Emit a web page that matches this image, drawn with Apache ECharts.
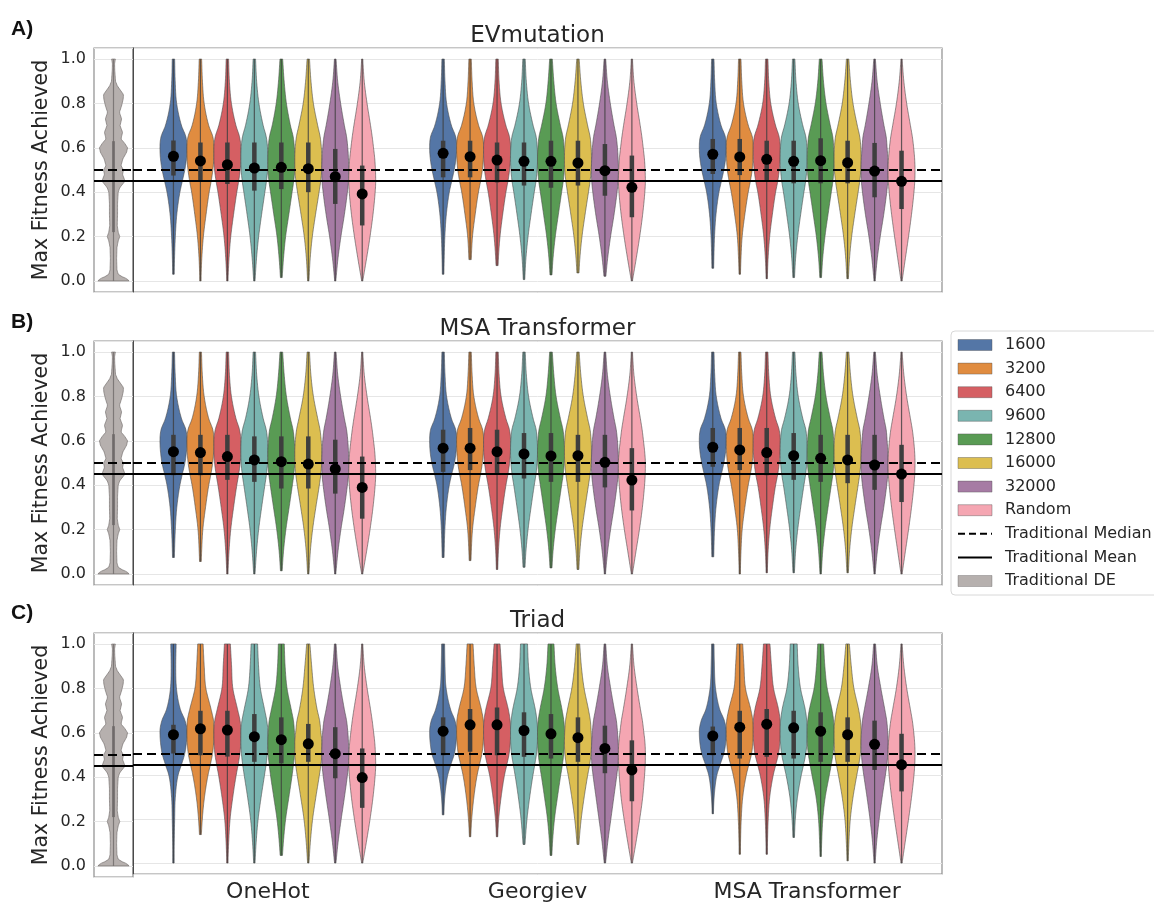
<!DOCTYPE html>
<html>
<head>
<meta charset="utf-8">
<script src="https://cdn.jsdelivr.net/npm/echarts@6/dist/echarts.min.js"></script>
<style>
  html, body { margin: 0; padding: 0; background: #ffffff; }
  #chart { width: 1154px; height: 903px; }
</style>
</head>
<body>
<div id="chart"></div>
<script>
// ---- categories and labels ----
const METHODS = ['OneHot', 'Georgiev', 'MSA Transformer'];
const BUDGETS = ['1600', '3200', '6400', '9600', '12800', '16000', '32000', 'Random'];
const PANEL_TITLES = ['EVmutation', 'MSA Transformer', 'Triad'];
const PANEL_TAGS = ['A)', 'B)', 'C)'];
const Y_NAME = 'Max Fitness Achieved';

// ---- traditional directed-evolution reference ----
const TRAD_MEDIAN = 0.503;
const TRAD_MEAN = 0.452;
const TRAD_Q1 = 0.22;
const TRAD_Q3 = 0.63;
const TRAD_LEVELS = [0, 0.01, 0.02, 0.03, 0.05, 0.1, 0.15, 0.18, 0.2, 0.22, 0.25, 0.3, 0.35, 0.4, 0.42,
  0.45, 0.48, 0.5, 0.52, 0.55, 0.58, 0.6, 0.62, 0.64, 0.67, 0.7, 0.73, 0.76, 0.79, 0.82, 0.84, 0.86,
  0.88, 0.9, 0.95, 0.98, 1.0];
const TRAD_WIDTH = [100, 85, 52, 30, 22, 20, 22, 30, 40, 30, 24, 26, 26, 30, 40,
  74, 58, 64, 48, 60, 84, 90, 72, 48, 58, 42, 52, 38, 52, 62, 64, 44,
  24, 13, 8, 7, 12];

// density profile levels (fitness values) at which violin widths are given (% of max width)
const LEVELS = [0, 0.1, 0.2, 0.3, 0.4, 0.45, 0.5, 0.55, 0.6, 0.65, 0.7, 0.8, 0.9, 1.0];

// ---- A) EVmutation ----
const EV_MEAN = [
  [0.562, 0.541, 0.524, 0.509, 0.512, 0.506, 0.470, 0.392],
  [0.575, 0.560, 0.545, 0.539, 0.539, 0.532, 0.497, 0.422],
  [0.571, 0.559, 0.548, 0.539, 0.542, 0.533, 0.495, 0.449]
];
const EV_Q1 = [
  [0.475, 0.452, 0.437, 0.407, 0.414, 0.400, 0.347, 0.250],
  [0.467, 0.467, 0.444, 0.430, 0.420, 0.430, 0.384, 0.287],
  [0.482, 0.477, 0.455, 0.440, 0.440, 0.440, 0.377, 0.324]
];
const EV_Q3 = [
  [0.633, 0.624, 0.624, 0.624, 0.624, 0.624, 0.595, 0.520],
  [0.632, 0.632, 0.624, 0.624, 0.632, 0.632, 0.617, 0.565],
  [0.640, 0.640, 0.632, 0.632, 0.643, 0.632, 0.622, 0.587]
];
const EV_MIN = [
  [0.030, 0.000, 0.000, 0.000, 0.015, 0.000, 0.000, 0.000],
  [0.030, 0.096, 0.069, 0.006, 0.027, 0.036, 0.021, 0.000],
  [0.057, 0.030, 0.010, 0.015, 0.015, 0.010, 0.000, 0.000]
];
const EV_WIDTH = [
  [
    [5, 8, 14, 25, 48, 66, 84, 96, 100, 92, 60, 24, 13, 9],
    [4, 10, 22, 42, 65, 80, 92, 99, 100, 92, 62, 28, 15, 9],
    [4, 12, 25, 46, 70, 84, 95, 100, 100, 90, 64, 30, 15, 9],
    [5, 16, 32, 54, 78, 90, 98, 100, 98, 88, 66, 34, 17, 9],
    [5, 16, 32, 56, 80, 92, 99, 100, 97, 88, 68, 38, 21, 10],
    [5, 14, 30, 54, 80, 92, 99, 100, 97, 88, 70, 38, 20, 9],
    [4, 20, 42, 68, 90, 98, 100, 98, 93, 84, 68, 40, 18, 6],
    [4, 32, 58, 80, 96, 100, 98, 93, 84, 74, 62, 36, 15, 4]
  ],
  [
    [5, 8, 13, 24, 46, 64, 82, 95, 100, 93, 62, 26, 14, 9],
    [4, 9, 18, 38, 62, 78, 91, 98, 100, 93, 64, 28, 15, 9],
    [4, 10, 22, 42, 66, 81, 93, 99, 100, 92, 66, 30, 15, 9],
    [5, 14, 30, 52, 76, 89, 97, 100, 98, 90, 68, 34, 17, 9],
    [5, 15, 32, 55, 79, 91, 98, 100, 97, 89, 70, 38, 21, 10],
    [5, 14, 30, 53, 78, 90, 98, 100, 98, 90, 72, 40, 21, 9],
    [4, 20, 42, 68, 90, 98, 100, 98, 93, 84, 68, 40, 18, 6],
    [4, 32, 58, 80, 96, 100, 98, 93, 84, 74, 62, 36, 15, 4]
  ],
  [
    [5, 8, 13, 24, 46, 64, 82, 95, 100, 93, 62, 26, 14, 9],
    [4, 9, 18, 38, 63, 79, 92, 98, 100, 93, 64, 28, 15, 9],
    [4, 10, 22, 42, 66, 82, 93, 99, 100, 92, 66, 30, 15, 9],
    [5, 14, 30, 52, 76, 89, 97, 100, 98, 90, 68, 34, 17, 9],
    [5, 15, 32, 55, 79, 91, 98, 100, 97, 90, 72, 40, 21, 10],
    [5, 14, 30, 53, 78, 90, 98, 100, 98, 90, 72, 40, 21, 9],
    [4, 20, 42, 68, 90, 98, 100, 98, 93, 86, 70, 42, 19, 6],
    [4, 28, 52, 74, 92, 98, 100, 97, 90, 80, 66, 38, 17, 4]
  ]
];

// ---- B) MSA Transformer ----
const MSA_MEAN = [
  [0.551, 0.547, 0.529, 0.514, 0.506, 0.495, 0.473, 0.390],
  [0.567, 0.567, 0.551, 0.541, 0.532, 0.533, 0.503, 0.423],
  [0.571, 0.559, 0.547, 0.533, 0.521, 0.514, 0.491, 0.450]
];
const MSA_Q1 = [
  [0.445, 0.445, 0.424, 0.415, 0.385, 0.385, 0.362, 0.249],
  [0.460, 0.468, 0.450, 0.430, 0.415, 0.415, 0.390, 0.286],
  [0.483, 0.468, 0.445, 0.424, 0.415, 0.409, 0.379, 0.324]
];
const MSA_Q3 = [
  [0.627, 0.627, 0.627, 0.620, 0.620, 0.620, 0.605, 0.529],
  [0.650, 0.658, 0.650, 0.635, 0.635, 0.627, 0.627, 0.567],
  [0.658, 0.658, 0.658, 0.635, 0.627, 0.627, 0.627, 0.582]
];
const MSA_MIN = [
  [0.074, 0.056, 0.000, 0.000, 0.014, 0.000, 0.000, 0.000],
  [0.074, 0.060, 0.020, 0.030, 0.027, 0.020, 0.000, 0.000],
  [0.077, 0.000, 0.005, 0.005, 0.000, 0.005, 0.000, 0.000]
];
const MSA_WIDTH = [
  [
    [5, 8, 14, 25, 48, 66, 85, 96, 100, 92, 60, 24, 13, 8],
    [4, 9, 18, 38, 62, 78, 91, 98, 100, 92, 62, 28, 14, 8],
    [4, 12, 25, 46, 70, 84, 95, 100, 100, 90, 64, 30, 15, 9],
    [5, 16, 32, 54, 78, 90, 98, 100, 98, 88, 66, 34, 17, 9],
    [5, 16, 34, 58, 82, 93, 99, 100, 96, 87, 68, 38, 21, 10],
    [5, 15, 32, 56, 82, 93, 99, 100, 96, 87, 70, 38, 19, 9],
    [4, 20, 42, 68, 90, 98, 100, 98, 93, 84, 68, 40, 18, 6],
    [4, 32, 58, 80, 96, 100, 98, 93, 84, 74, 62, 36, 15, 4]
  ],
  [
    [5, 8, 13, 24, 46, 64, 84, 96, 100, 93, 62, 26, 14, 9],
    [4, 9, 18, 38, 62, 78, 91, 98, 100, 93, 64, 28, 15, 9],
    [4, 10, 22, 42, 66, 81, 93, 99, 100, 92, 66, 30, 15, 9],
    [5, 14, 30, 52, 76, 89, 97, 100, 98, 90, 68, 34, 17, 9],
    [5, 15, 32, 55, 79, 91, 98, 100, 97, 89, 70, 38, 21, 10],
    [5, 14, 30, 53, 78, 90, 98, 100, 98, 90, 72, 40, 21, 9],
    [4, 20, 42, 68, 90, 98, 100, 98, 93, 84, 68, 40, 18, 6],
    [4, 30, 56, 78, 94, 99, 100, 95, 86, 76, 63, 36, 15, 4]
  ],
  [
    [5, 8, 13, 24, 46, 64, 82, 95, 100, 93, 62, 26, 14, 9],
    [4, 9, 18, 38, 63, 79, 92, 98, 100, 93, 64, 28, 15, 9],
    [4, 10, 22, 42, 66, 82, 93, 99, 100, 92, 66, 30, 15, 9],
    [5, 14, 30, 52, 76, 89, 97, 100, 98, 90, 68, 34, 17, 9],
    [5, 15, 32, 55, 79, 91, 98, 100, 97, 90, 72, 40, 21, 10],
    [5, 14, 30, 53, 78, 90, 98, 100, 98, 90, 72, 40, 21, 9],
    [4, 20, 42, 68, 90, 98, 100, 98, 93, 86, 70, 42, 19, 6],
    [4, 28, 52, 74, 92, 98, 100, 97, 90, 80, 66, 38, 17, 4]
  ]
];

// ---- C) Triad ----
const TRIAD_MEAN = [
  [0.586, 0.613, 0.607, 0.577, 0.563, 0.544, 0.499, 0.390],
  [0.602, 0.631, 0.631, 0.605, 0.590, 0.572, 0.523, 0.425],
  [0.580, 0.620, 0.634, 0.617, 0.602, 0.586, 0.542, 0.449]
];
const TRIAD_Q1 = [
  [0.500, 0.492, 0.486, 0.462, 0.455, 0.462, 0.387, 0.252],
  [0.492, 0.508, 0.492, 0.485, 0.477, 0.462, 0.410, 0.282],
  [0.492, 0.477, 0.485, 0.477, 0.462, 0.462, 0.425, 0.327]
];
const TRIAD_Q3 = [
  [0.631, 0.695, 0.695, 0.680, 0.665, 0.635, 0.620, 0.523],
  [0.665, 0.703, 0.710, 0.688, 0.680, 0.665, 0.627, 0.560],
  [0.623, 0.695, 0.703, 0.695, 0.688, 0.665, 0.650, 0.590]
];
const TRIAD_MIN = [
  [0.000, 0.130, 0.000, 0.000, 0.035, 0.000, 0.000, 0.000],
  [0.220, 0.120, 0.120, 0.085, 0.035, 0.085, 0.000, 0.000],
  [0.225, 0.040, 0.040, 0.117, 0.030, 0.010, 0.000, 0.000]
];
const TRIAD_WIDTH = [
  [
    [4, 6, 9, 14, 34, 60, 84, 96, 100, 86, 52, 22, 17, 20],
    [0, 5, 14, 30, 56, 74, 90, 98, 100, 97, 80, 40, 28, 20],
    [4, 10, 20, 40, 65, 80, 93, 99, 100, 94, 76, 40, 31, 22],
    [5, 14, 28, 50, 75, 87, 96, 100, 100, 92, 76, 44, 31, 24],
    [5, 16, 32, 56, 80, 90, 98, 100, 97, 90, 74, 42, 28, 22],
    [5, 16, 32, 56, 82, 94, 100, 100, 93, 84, 66, 40, 25, 12],
    [5, 22, 44, 68, 90, 98, 100, 98, 93, 84, 68, 40, 18, 6],
    [4, 32, 58, 80, 96, 100, 98, 93, 84, 74, 62, 36, 15, 4]
  ],
  [
    [0, 0, 5, 12, 34, 58, 84, 96, 100, 88, 56, 22, 14, 11],
    [0, 4, 12, 28, 52, 70, 88, 97, 100, 98, 84, 45, 31, 22],
    [0, 4, 12, 30, 55, 73, 90, 98, 100, 97, 84, 46, 33, 22],
    [0, 9, 22, 42, 66, 80, 93, 99, 100, 96, 84, 50, 33, 26],
    [4, 12, 26, 48, 72, 85, 95, 99, 100, 95, 82, 50, 31, 22],
    [0, 9, 24, 46, 72, 87, 97, 100, 98, 92, 78, 45, 25, 13],
    [5, 22, 44, 66, 88, 97, 100, 98, 93, 85, 70, 42, 18, 6],
    [4, 32, 58, 80, 94, 99, 100, 97, 88, 78, 64, 38, 16, 4]
  ],
  [
    [0, 0, 4, 10, 30, 55, 82, 96, 100, 86, 52, 20, 12, 9],
    [4, 6, 11, 22, 48, 68, 88, 97, 100, 97, 82, 42, 31, 22],
    [4, 6, 11, 22, 48, 68, 88, 97, 100, 99, 88, 50, 35, 24],
    [0, 5, 12, 28, 56, 74, 90, 98, 100, 97, 86, 50, 33, 26],
    [4, 8, 16, 34, 64, 79, 92, 99, 100, 96, 84, 48, 31, 22],
    [4, 10, 20, 40, 68, 83, 95, 99, 100, 95, 82, 46, 27, 13],
    [4, 16, 34, 56, 80, 91, 98, 100, 97, 90, 76, 46, 20, 7],
    [4, 28, 52, 74, 92, 98, 100, 97, 90, 80, 66, 38, 17, 4]
  ]
];

// ---- styling ----
const COLORS = ['#5476a6', '#e08c40', '#d55f63', '#7ab5b0', '#599b54', '#dcbe50', '#a67ba4', '#f5a6b2'];
const TRAD_COLOR = '#b6b0ae';
const TEXT_COLOR = '#262626';
const FONT = 'DejaVu Sans';

// panel geometry (pixels)
const PANEL_TOP = [48, 341, 633];
const PANEL_H = 244;
const OUTER_LEFT = 94;
const SPLIT_X = 133;
const MAIN_W = 809;
const TITLE_Y = [36.5, 329, 621];
const TAG_Y = [29, 322, 613];

const P_MEAN = [EV_MEAN, MSA_MEAN, TRIAD_MEAN];
const P_Q1 = [EV_Q1, MSA_Q1, TRIAD_Q1];
const P_Q3 = [EV_Q3, MSA_Q3, TRIAD_Q3];
const P_MIN = [EV_MIN, MSA_MIN, TRIAD_MIN];
const P_WIDTH = [EV_WIDTH, MSA_WIDTH, TRIAD_WIDTH];

// monotone cubic profile through the given widths (keeps the outline from overshooting)
function monotone(xs, ys) {
  const n = xs.length, d = [], m = new Array(n);
  for (let i = 0; i < n - 1; i++) d.push((ys[i + 1] - ys[i]) / (xs[i + 1] - xs[i]));
  m[0] = d[0]; m[n - 1] = d[n - 2];
  for (let i = 1; i < n - 1; i++) m[i] = d[i - 1] * d[i] <= 0 ? 0 : (d[i - 1] + d[i]) / 2;
  for (let i = 0; i < n - 1; i++) {
    if (d[i] === 0) { m[i] = 0; m[i + 1] = 0; continue; }
    const a = m[i] / d[i], b = m[i + 1] / d[i], s = a * a + b * b;
    if (s > 9) { const t = 3 / Math.sqrt(s); m[i] = t * a * d[i]; m[i + 1] = t * b * d[i]; }
  }
  return function (x) {
    let i = 0;
    while (i < n - 2 && x > xs[i + 1]) i++;
    const h = xs[i + 1] - xs[i], t = (x - xs[i]) / h, t2 = t * t, t3 = t2 * t;
    return (2 * t3 - 3 * t2 + 1) * ys[i] + (t3 - 2 * t2 + t) * h * m[i] +
      (-2 * t3 + 3 * t2) * ys[i + 1] + (t3 - t2) * h * m[i + 1];
  };
}
function linear(xs, ys) {
  return function (x) {
    let i = 0;
    while (i < xs.length - 2 && x > xs[i + 1]) i++;
    const t = (x - xs[i]) / (xs[i + 1] - xs[i]);
    return ys[i] + (ys[i + 1] - ys[i]) * t;
  };
}

// build a violin group: outline, whisker, inter-quartile bar
function violinShape(api, xAt, cx, half, lo, hi, widthFn, q1, q3, fill, edge, barColor, barW) {
  const right = [], left = [];
  const steps = 160;
  for (let k = 0; k <= steps; k++) {
    const v = lo + (hi - lo) * k / steps;
    const w = Math.max(widthFn(v) / 100 * half, 0.7);
    const y = api.coord([xAt, v])[1];
    right.push([cx + w, y]);
    left.push([cx - w, y]);
  }
  const pts = right.concat(left.reverse());
  const yLo = api.coord([xAt, lo])[1], yHi = api.coord([xAt, hi])[1];
  const yQ1 = api.coord([xAt, q1])[1], yQ3 = api.coord([xAt, q3])[1];
  return {
    type: 'group',
    children: [
      { type: 'polygon', shape: { points: pts }, style: { fill: fill, stroke: edge, lineWidth: 1 } },
      { type: 'line', shape: { x1: cx, y1: yLo, x2: cx, y2: yHi }, style: { stroke: barColor, lineWidth: 1.2, opacity: 0.8 } },
      { type: 'line', shape: { x1: cx, y1: yQ1, x2: cx, y2: yQ3 }, style: { stroke: barColor, lineWidth: barW } }
    ]
  };
}

const grids = [], xAxes = [], yAxes = [], series = [];

function yAxisBase(gi) {
  return {
    gridIndex: gi, type: 'value', min: -0.05, max: 1.05, splitNumber: 5,
    axisTick: { show: false },
    splitLine: { show: true, lineStyle: { color: '#e6e6e6', width: 1 } }
  };
}

for (let p = 0; p < 3; p++) {
  const gL = 2 * p, gM = 2 * p + 1;
  grids.push({ left: OUTER_LEFT, top: PANEL_TOP[p], width: SPLIT_X - OUTER_LEFT, height: PANEL_H,
    show: true, borderColor: '#8e8e8e', borderWidth: 1.2, backgroundColor: 'transparent' });
  grids.push({ left: SPLIT_X, top: PANEL_TOP[p], width: MAIN_W, height: PANEL_H,
    show: true, borderColor: '#8e8e8e', borderWidth: 1.2, backgroundColor: 'transparent' });

  xAxes.push({ gridIndex: gL, type: 'value', min: -0.5, max: 0.5, show: false });
  xAxes.push({
    gridIndex: gM, type: 'category', data: METHODS, boundaryGap: true,
    axisLine: { show: false }, axisTick: { show: false }, splitLine: { show: false },
    axisLabel: { show: p === 2, fontSize: 22, color: TEXT_COLOR, fontFamily: FONT, margin: 7 }
  });

  yAxes.push(Object.assign(yAxisBase(gL), {
    axisLine: { show: false },
    axisLabel: { show: true, fontSize: 16, color: TEXT_COLOR, fontFamily: FONT, margin: 8,
      showMinLabel: false, showMaxLabel: false, formatter: v => v.toFixed(1) },
    name: Y_NAME, nameLocation: 'middle', nameGap: 42,
    nameTextStyle: { fontSize: 20.5, color: TEXT_COLOR, fontFamily: FONT }
  }));
  yAxes.push(Object.assign(yAxisBase(gM), {
    axisLine: { show: true, lineStyle: { color: '#4a4a4a', width: 1 } },
    axisLabel: { show: false }
  }));

  // traditional DE violin (left strip)
  series.push({
    type: 'custom', name: 'Traditional DE', xAxisIndex: gL, yAxisIndex: gL, z: 2,
    itemStyle: { color: TRAD_COLOR }, silent: true,
    data: [[0, TRAD_MEDIAN]],
    renderItem: function (params, api) {
      const cx = api.coord([0, 0])[0];
      const half = api.size([0.8, 0])[0] / 2;
      return violinShape(api, 0, cx, half, 0, 1, linear(TRAD_LEVELS, TRAD_WIDTH),
        TRAD_Q1, TRAD_Q3, TRAD_COLOR, 'rgba(120,114,112,0.7)', '#6f6a69', 2.6);
    }
  });

  // budget violins, one series per budget
  BUDGETS.forEach((b, h) => {
    series.push({
      type: 'custom', name: b, xAxisIndex: gM, yAxisIndex: gM, z: 2, silent: true,
      itemStyle: { color: COLORS[h] },
      data: METHODS.map((_, m) => [m, P_MEAN[p][m][h]]),
      renderItem: function (params, api) {
        const m = params.dataIndex;
        const c = api.coord([m, 0]);
        const band = api.size([1, 0])[0];
        const cx = c[0] + (h - 3.5) * 0.1 * band;
        const half = 0.05 * band;
        const fn = monotone(LEVELS, P_WIDTH[p][m][h]);
        return violinShape(api, m, cx, half, P_MIN[p][m][h], 1, fn,
          P_Q1[p][m][h], P_Q3[p][m][h], COLORS[h], 'rgba(75,75,75,0.6)', '#3e3e3e', 4.5);
      }
    });
  });

  // traditional median / mean reference lines across both strips
  [gL, gM].forEach(gi => {
    series.push({
      type: 'line', name: 'Traditional Median', xAxisIndex: gi, yAxisIndex: gi, data: [], z: 3,
      symbol: 'none', silent: true,
      lineStyle: { color: '#000', width: 2, type: [7, 4] },
      markLine: { silent: true, symbol: ['none', 'none'], label: { show: false },
        lineStyle: { color: '#000', width: 2.2, type: [9, 5] }, data: [{ yAxis: TRAD_MEDIAN }] }
    });
    series.push({
      type: 'line', name: 'Traditional Mean', xAxisIndex: gi, yAxisIndex: gi, data: [], z: 3,
      symbol: 'none', silent: true,
      lineStyle: { color: '#000', width: 2, type: 'solid' },
      markLine: { silent: true, symbol: ['none', 'none'], label: { show: false },
        lineStyle: { color: '#000', width: 2, type: 'solid' }, data: [{ yAxis: TRAD_MEAN }] }
    });
  });

  // mean markers
  const dots = [];
  METHODS.forEach((_, m) => BUDGETS.forEach((b, h) => dots.push([m, P_MEAN[p][m][h], h])));
  series.push({
    type: 'custom', name: 'mean', xAxisIndex: gM, yAxisIndex: gM, z: 5, silent: true,
    data: dots,
    renderItem: function (params, api) {
      const m = api.value(0), v = api.value(1), h = api.value(2);
      const c = api.coord([m, v]);
      const band = api.size([1, 0])[0];
      return { type: 'circle', shape: { cx: c[0] + (h - 3.5) * 0.1 * band, cy: c[1], r: 5.5 },
        style: { fill: '#000' } };
    }
  });
}

const legendData = BUDGETS.map((b, h) => ({
  name: b, icon: 'rect', itemStyle: { color: COLORS[h], borderColor: 'rgba(80,80,80,0.5)', borderWidth: 0.8 }
})).concat([
  { name: 'Traditional Median', itemStyle: { opacity: 0 } },
  { name: 'Traditional Mean', itemStyle: { opacity: 0 } },
  { name: 'Traditional DE', icon: 'rect', itemStyle: { color: TRAD_COLOR, borderColor: 'rgba(80,80,80,0.4)', borderWidth: 0.8 } }
]);

const graphics = [];
PANEL_TITLES.forEach((t, p) => graphics.push({
  type: 'text', x: SPLIT_X + MAIN_W / 2, y: TITLE_Y[p], silent: true,
  style: { text: t, fill: TEXT_COLOR, font: '23px "DejaVu Sans"', textAlign: 'center', textVerticalAlign: 'middle' }
}));
PANEL_TAGS.forEach((t, p) => graphics.push({
  type: 'text', x: 11, y: TAG_Y[p], silent: true,
  style: { text: t, fill: '#111', font: 'bold 21px "Liberation Sans"', textAlign: 'left', textVerticalAlign: 'middle' }
}));

const chart = echarts.init(document.getElementById('chart'), null, { renderer: 'canvas' });
chart.setOption({
  backgroundColor: '#ffffff',
  animation: false,
  textStyle: { fontFamily: FONT },
  grid: grids,
  xAxis: xAxes,
  yAxis: yAxes,
  legend: {
    orient: 'vertical', left: 951, top: 331,
    data: legendData, selectedMode: false,
    itemWidth: 34, itemHeight: 11, itemGap: 7.6,
    textStyle: { fontSize: 16, color: TEXT_COLOR, fontFamily: FONT, lineHeight: 16, padding: [0, 0, 0, 8] },
    backgroundColor: '#ffffff', borderColor: '#d8d8d8', borderWidth: 1, borderRadius: 4,
    padding: [6, 12, 6, 6]
  },
  graphic: graphics,
  series: series
});
</script>
</body>
</html>
